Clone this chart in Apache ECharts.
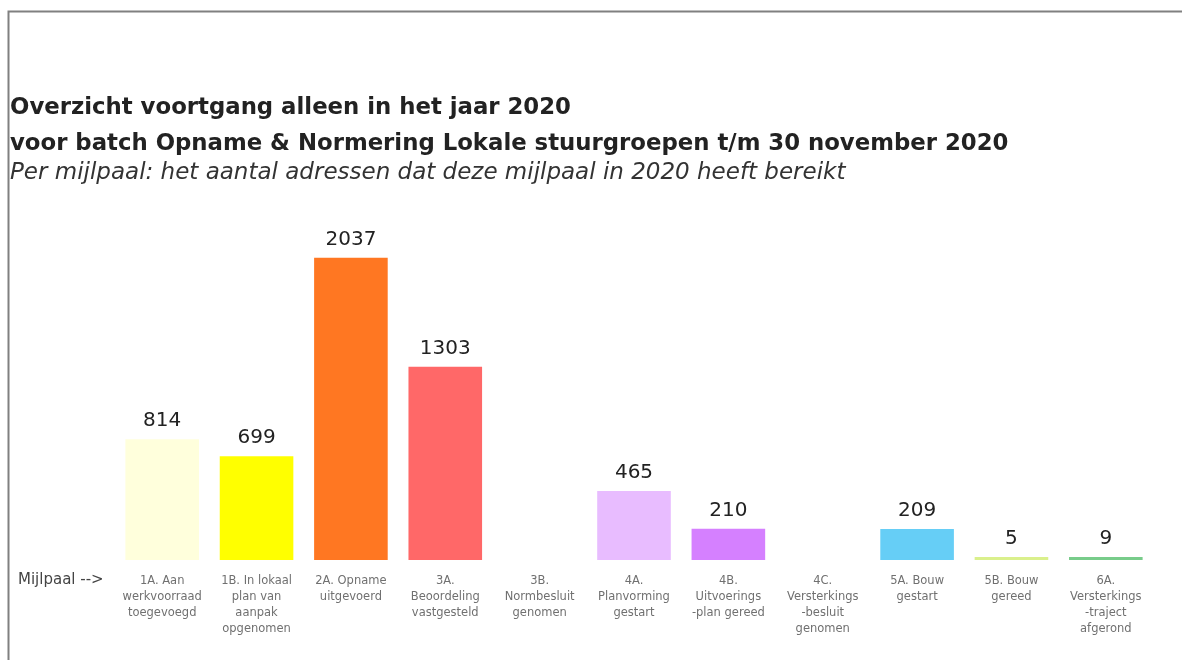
<!DOCTYPE html>
<html>
<head>
<meta charset="utf-8">
<script src="https://cdn.jsdelivr.net/npm/echarts@6/dist/echarts.min.js"></script>
<style>
html,body{margin:0;padding:0;background:#fff;}
#chart{width:1182px;height:660px;}
</style>
</head>
<body>
<div id="chart"></div>
<script>
const categories = [
  "1A. Aan\nwerkvoorraad\ntoegevoegd",
  "1B. In lokaal\nplan van\naanpak\nopgenomen",
  "2A. Opname\nuitgevoerd",
  "3A.\nBeoordeling\nvastgesteld",
  "3B.\nNormbesluit\ngenomen",
  "4A.\nPlanvorming\ngestart",
  "4B.\nUitvoerings\n-plan gereed",
  "4C.\nVersterkings\n-besluit\ngenomen",
  "5A. Bouw\ngestart",
  "5B. Bouw\ngereed",
  "6A.\nVersterkings\n-traject\nafgerond"
];
const values = [814, 699, 2037, 1303, null, 465, 210, null, 209, 5, 9];
const barColors = ["#FFFFDC", "#FFFF00", "#FF7722", "#FF6868", "#CCCCCC", "#E8BCFF", "#D580FF", "#CCCCCC", "#66CEF6", "#DAF08C", "#78CC8A"];
const titleLines = [
  "Overzicht voortgang alleen in het jaar 2020",
  "voor batch Opname & Normering Lokale stuurgroepen t/m 30 november 2020",
  "Per mijlpaal: het aantal adressen dat deze mijlpaal in 2020 heeft bereikt"
];
const axisLead = "Mijlpaal -->";

const chart = echarts.init(document.getElementById('chart'));
const font = '"DejaVu Sans", Verdana, sans-serif';
chart.setOption({
  animation: false,
  backgroundColor: '#ffffff',
  title: [
    {text: titleLines[0], left: 5, top: 92, textStyle: {fontFamily: font, fontSize: 22.8, fontWeight: 'bold', color: '#222'}},
    {text: titleLines[1], left: 5, top: 128, textStyle: {fontFamily: font, fontSize: 22.8, fontWeight: 'bold', color: '#222'}},
    {text: titleLines[2], left: 5, top: 157, textStyle: {fontFamily: font, fontSize: 23, fontWeight: 'normal', fontStyle: 'italic', color: '#333'}}
  ],
  graphic: [
    {type: 'rect', left: 6, top: 9, shape: {width: 1200, height: 700}, style: {fill: 'none', stroke: '#808080', lineWidth: 2}, silent: true},
    {type: 'text', left: 18, top: 573, style: {text: axisLead, font: '15px ' + font, fill: '#444'}}
  ],
  grid: {left: 115, right: 29, top: 189, bottom: 100},
  xAxis: {
    type: 'category',
    data: categories,
    axisLine: {show: false},
    axisTick: {show: false},
    axisLabel: {interval: 0, margin: 13, fontFamily: font, fontSize: 11.5, lineHeight: 16, color: '#707070', verticalAlign: 'top'}
  },
  yAxis: {type: 'value', min: 0, max: 2500, show: false, splitLine: {show: false}},
  series: [{
    type: 'bar',
    barWidth: '78%',
    barMinHeight: 3,
    data: values.map((v, i) => ({value: v, itemStyle: {color: barColors[i]}})),
    label: {show: true, position: 'top', distance: 8, fontFamily: font, fontSize: 20, color: '#222'}
  }]
});
</script>
</body>
</html>
